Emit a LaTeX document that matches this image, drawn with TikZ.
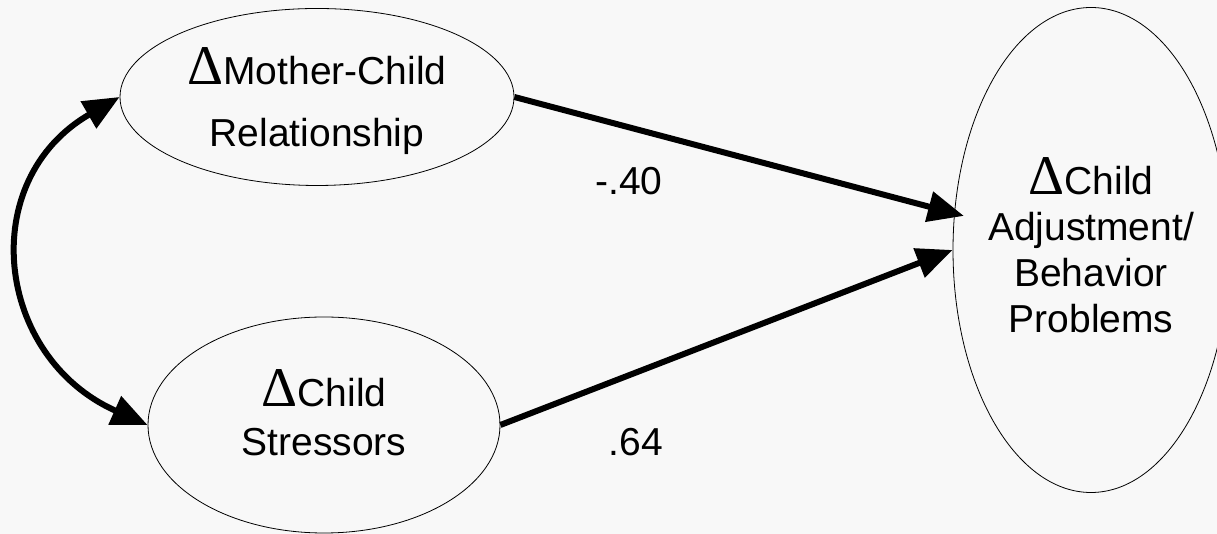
\documentclass[tikz,border=0pt]{standalone}
\usepackage{fontspec}
\setmainfont{Liberation Sans}
\newfontfamily\deltafont{Liberation Serif}
\usepackage{tikz}
\usetikzlibrary{shapes.geometric,arrows.meta,positioning}
\definecolor{bg}{HTML}{F8F8F8}
\newcommand{\dlt}{{\deltafont\fontsize{56}{56}\selectfont Δ}}

\begin{document}
\begin{tikzpicture}[
  x=1pt,y=1pt,
  font=\fontsize{39}{49}\selectfont,
  latent/.style={draw,ellipse,line width=0.8pt,inner sep=0pt,align=center},
  effect/.style={line width=6pt,-{Triangle[length=36pt,width=30pt]}},
  covar/.style={line width=6pt,
                {Triangle[length=36pt,width=30pt]}-{Triangle[length=36pt,width=30pt]}},
  coef/.style={inner sep=0pt}]
\fill[bg] (0,0) rectangle (1217,534);
\useasboundingbox (0,0) rectangle (1217,534);
\node[latent,minimum width=394pt,minimum height=177pt,inner xsep=-10pt,text depth=-2pt,
      font=\fontsize{39}{62}\selectfont] (rel) at (317,437)
  {\dlt Mother-Child\\Relationship};
\node[latent,minimum width=352pt,minimum height=216pt,text depth=24pt] (str) at (324,109)
  {\dlt Child\\Stressors};
\node[latent,minimum width=276pt,minimum height=485pt,inner xsep=-30pt,text depth=10pt,
      font=\fontsize{39}{46}\selectfont] (adj) at (1091,284)
  {\dlt Child\\Adjustment/\\Behavior\\Problems};
\draw[effect,shorten >=-10pt] (rel.east) -- (adj.165);
\draw[effect] (str.east) -- (adj.west);
\draw[covar] (rel.west) to[out=210,in=156,looseness=1.3] (str.west);
\node[coef] (c40) at (629,353) {-.40};
\node[coef] (c64) at (636,92) {.64};
\end{tikzpicture}
\end{document}
